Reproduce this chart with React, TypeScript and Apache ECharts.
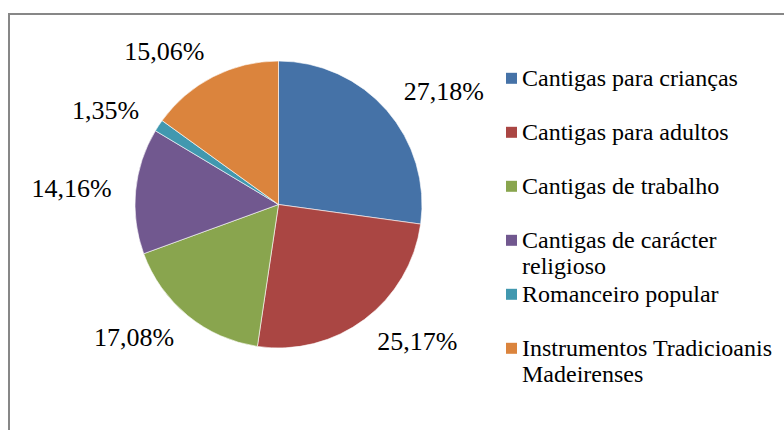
import React, { useEffect, useRef } from "react";
import * as echarts from "echarts";

const categories = [
  "Cantigas para crianças",
  "Cantigas para adultos",
  "Cantigas de trabalho",
  "Cantigas de carácter religioso",
  "Romanceiro popular",
  "Instrumentos Tradicioanis Madeirenses",
];
const shares = [27.18, 25.17, 17.08, 14.16, 1.35, 15.06];
const colors = ["#4572A7", "#AA4643", "#89A54E", "#71588F", "#4198AF", "#DB843D"];

const FONT = "'Liberation Serif', 'Times New Roman', serif";

export default function App() {
  const ref = useRef<HTMLDivElement>(null);
  useEffect(() => {
    const chart = echarts.init(ref.current!, null, { renderer: "svg" });
    const legendTop = 78.3;
    const legendStep = 54;
    const legendGraphics: any[] = [];
    categories.forEach((name, i) => {
      const cy = legendTop + i * legendStep;
      legendGraphics.push({
        type: "rect",
        shape: { x: 506, y: cy - 5.5, width: 11, height: 11 },
        style: { fill: colors[i] },
        silent: true,
      });
      legendGraphics.push({
        type: "text",
        x: 522,
        y: cy - 13,
        silent: true,
        style: {
          text: name,
          fontSize: 24,
          fontFamily: FONT,
          fill: "#000",
          width: 258,
          overflow: "break",
          lineHeight: 26,
          verticalAlign: "top",
          align: "left",
        },
      });
    });
    chart.setOption({
      animation: false,
      backgroundColor: "#fff",
      textStyle: { fontFamily: FONT },
      graphic: [
        {
          type: "rect",
          shape: { x: 9, y: 14, width: 800, height: 500 },
          style: { fill: "none", stroke: "#878787", lineWidth: 2 },
          silent: true,
          z: -1,
        },
        ...legendGraphics,
      ],
      series: [
        {
          type: "pie",
          center: [278.5, 204.5],
          radius: 143.5,
          startAngle: 90,
          clockwise: true,
          avoidLabelOverlap: false,
          silent: true,
          emphasis: { disabled: true },
          data: categories.map((name, i) => ({
            name,
            value: shares[i],
            itemStyle: { color: colors[i] },
          })),
          itemStyle: { borderColor: "#ffffff", borderWidth: 0.6 },
          label: {
            show: true,
            position: "outside",
            formatter: (p: any) => p.value.toFixed(2).replace(".", ",") + "%",
            fontSize: 26,
            fontFamily: FONT,
            color: "#000",
            distanceToLabelLine: -4,
          },
          labelLine: { show: false, length: 28, length2: 0 },
        },
      ],
    });
    return () => chart.dispose();
  }, []);
  return (
    <div
      ref={ref}
      style={{ position: "fixed", left: 0, top: 0, width: 784, height: 430 }}
    />
  );
}
